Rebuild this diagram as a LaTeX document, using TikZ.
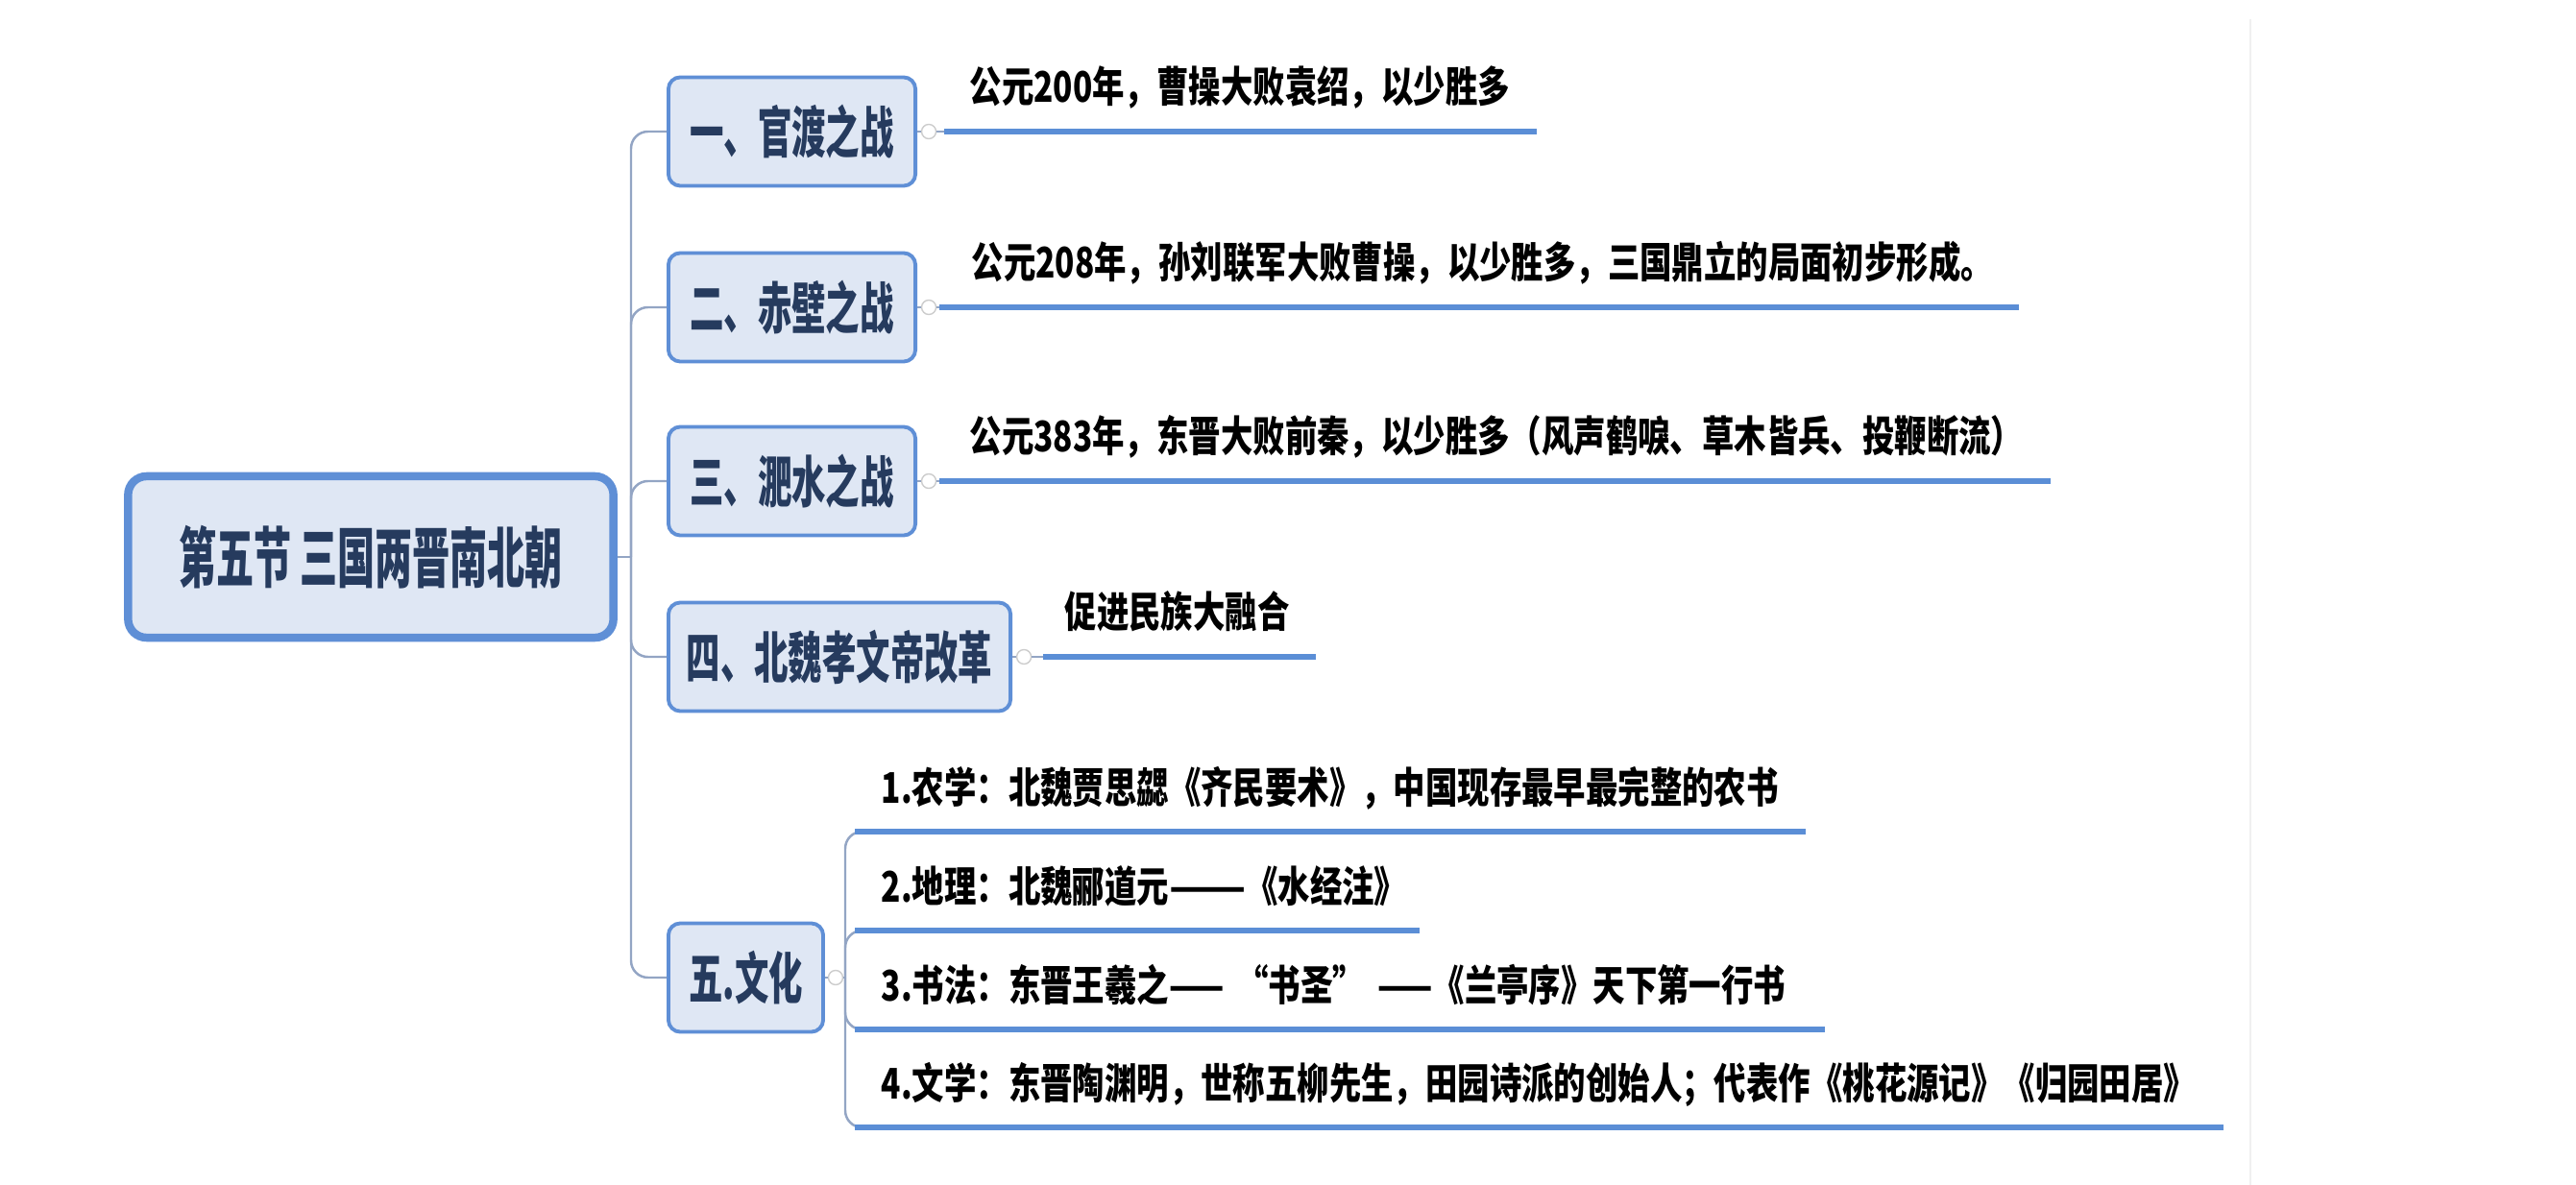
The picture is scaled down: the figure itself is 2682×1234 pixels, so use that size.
\documentclass[tikz,border=0pt]{standalone}
\usepackage{fontspec}
\usepackage{tikz}
\usetikzlibrary{positioning,calc}
\newfontfamily\rootfont{Noto Sans CJK SC}[FakeStretch=0.57]
\newfontfamily\topicfont{Noto Sans CJK SC}[FakeStretch=0.61]
\newfontfamily\leaffont{Noto Sans CJK SC}[FakeStretch=0.76]
\definecolor{boxfill}{HTML}{DFE7F4}
\definecolor{boxline}{HTML}{5F8FD6}
\definecolor{boxtext}{HTML}{263B5E}
\definecolor{linkgray}{HTML}{93A5C4}
\definecolor{ulineblue}{HTML}{5B8ED6}

\begin{document}
\begin{tikzpicture}[x=0.01cm,y=-0.01cm,
  rootbox/.style={draw=boxline, line width=2.4pt, fill=boxfill, rounded corners=5.5pt,
    minimum width=5.05cm, minimum height=1.68cm, inner sep=0pt, text=boxtext,
    font=\rootfont\bfseries\fontsize{19.5}{22}\selectfont},
  topic/.style={draw=boxline, line width=1.1pt, fill=boxfill, rounded corners=3.5pt,
    minimum height=1.13cm, inner sep=0pt, anchor=west, text=boxtext,
    font=\topicfont\bfseries\fontsize{16.5}{19}\selectfont},
  leaf/.style={anchor=base west, inner sep=0pt,
    font=\leaffont\bfseries\fontsize{12.5}{14}\selectfont},
  link/.style={draw=linkgray, line width=0.7pt, rounded corners=5pt},
  uline/.style={draw=ulineblue, line width=1.8pt},
  knob/.style={draw=black!20, line width=0.4pt, circle, minimum size=0.15cm, inner sep=0pt}
]
\useasboundingbox (0,0) rectangle (2682,1234);
% faint page edge
\draw[black!6, line width=0.6pt] (2343,20) -- (2343,1234);
% central topic
\node[rootbox] (root) at (386,580) {第五节 三国两晋南北朝};
\coordinate (hub) at (657,580);
\draw[link] (root.east) -- (hub);
% main branches
\foreach \n/\y/\w/\txt in {1/137/2.57/一、官渡之战, 2/320/2.57/二、赤壁之战,
    3/501/2.57/三、淝水之战, 4/684/3.56/四、北魏孝文帝改革, 5/1018/1.61/五.文化} {
  \node[topic, minimum width=\w cm] (t\n) at (694,\y) {\txt};
  \draw[link] (hub) |- (t\n.west);
}
% one-line details of branches 1--4
\foreach \n/\y/\xs/\xe/\xt/\txt in {
    1/137/983/1600/1009/公元200年，曹操大败袁绍，以少胜多,
    2/320/978/2102/1011/公元208年，孙刘联军大败曹操，以少胜多，三国鼎立的局面初步形成。,
    3/501/978/2135/1009/公元383年，东晋大败前秦，以少胜多（风声鹤唳、草木皆兵、投鞭断流）,
    4/684/1086/1370/1108/促进民族大融合} {
  \node[knob] (k\n) at ($(t\n.east)+(12,0)$) {};
  \coordinate (s\n) at (\xs,\y);
  \coordinate (e\n) at (\xe,\y);
  \draw[link] (t\n.east) -- (k\n) -- (s\n);
  \draw[uline] (s\n) -- (e\n);
  \node[leaf] (l\n) at (\xt,\y-30) {\txt};
}
% culture sub-branches
\node[knob] (k5) at ($(t5.east)+(11,0)$) {};
\coordinate (hub5) at (880,1018);
\draw[link] (t5.east) -- (k5) -- (hub5);
\foreach \m/\y/\xe/\txt in {
    1/866/1880/1.农学：北魏贾思勰《齐民要术》，中国现存最早最完整的农书,
    2/969/1478/2.地理：北魏郦道元\scalebox{1.4}[1]{——}《水经注》,
    3/1072/1900/3.书法：东晋王羲之——\hspace{0.3em}“书圣”\hspace{0.3em}——《兰亭序》天下第一行书,
    4/1174/2315/4.文学：东晋陶渊明，世称五柳先生，田园诗派的创始人；代表作《桃花源记》《归园田居》} {
  \coordinate (fs\m) at (890,\y);
  \coordinate (fe\m) at (\xe,\y);
  \draw[link] (hub5) |- (fs\m);
  \draw[uline] (fs\m) -- (fe\m);
  \node[leaf] (f\m) at (917,\y-30) {\txt};
}
\end{tikzpicture}
\end{document}
